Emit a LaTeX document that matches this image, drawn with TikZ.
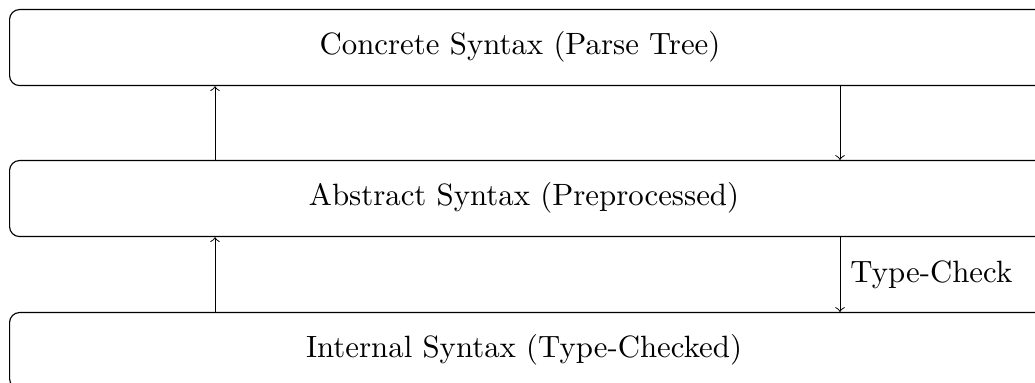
\documentclass[tikz,border=0pt]{standalone}
\begin{document}
\begin{tikzpicture}[x=0.352pt,y=-0.352pt,>=to,
  font=\fontsize{10.85}{13}\selectfont,
  layerbox/.style={draw, rounded corners=3.5pt, line width=0.4pt,
    minimum width=384pt, minimum height=26.75pt, anchor=north west, inner sep=0pt},
  layertext/.style={inner sep=0pt, anchor=center}]
  \clip (0,0) rectangle (1035,383);
  \useasboundingbox (0,0) rectangle (1035,383);
  % three stacked syntax layers
  \node[layerbox] (cst) at (9,9) {};
  \node[layerbox] (abs) at (9,160) {};
  \node[layerbox] (int) at (9,312) {};
  \node[layertext] (cstlbl) at (520,47) {Concrete Syntax (Parse Tree)};
  \node[layertext] (abslbl) at (524,198) {Abstract Syntax (Preprocessed)};
  \node[layertext] (intlbl) at (524,350) {Internal Syntax (Type-Checked)};
  % arrow columns
  \coordinate (up) at (215,0);
  \coordinate (down) at (840,0);
  \draw[->, line width=0.35pt] (abs.north -| up) -- (cst.south -| up);
  \draw[->, line width=0.35pt] (cst.south -| down) -- (abs.north -| down);
  \draw[->, line width=0.35pt] (int.north -| up) -- (abs.south -| up);
  \draw[->, line width=0.35pt] (abs.south -| down) -- node[right=3.5pt, inner sep=0pt] (tc) {Type-Check} (int.north -| down);
\end{tikzpicture}
\end{document}
